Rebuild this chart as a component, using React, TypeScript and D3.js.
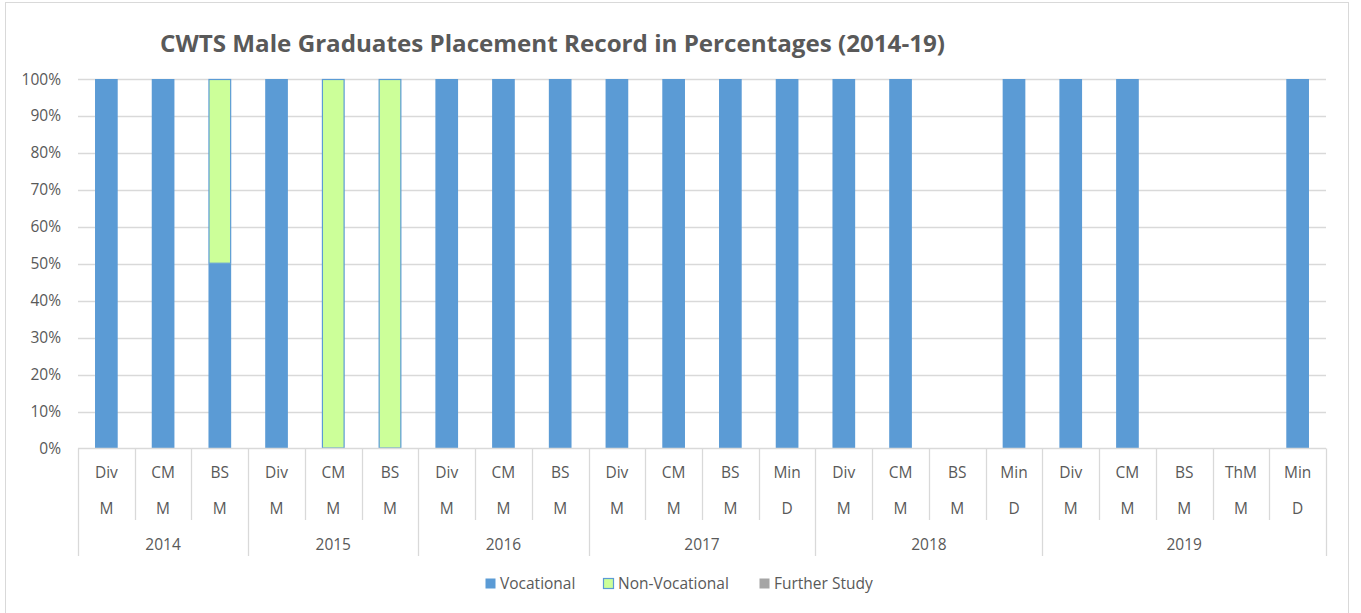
import React, { useEffect, useRef } from 'react';
import * as d3 from 'd3';

// categories (level 1 / level 2) and their year groups
const programs = ['Div', 'CM', 'BS', 'Div', 'CM', 'BS', 'Div', 'CM', 'BS', 'Div', 'CM', 'BS', 'Min', 'Div', 'CM', 'BS', 'Min', 'Div', 'CM', 'BS', 'ThM', 'Min'];
const degrees = ['M', 'M', 'M', 'M', 'M', 'M', 'M', 'M', 'M', 'M', 'M', 'M', 'D', 'M', 'M', 'M', 'D', 'M', 'M', 'M', 'M', 'D'];
const years = ['2014', '2015', '2016', '2017', '2018', '2019'];
const yearCounts = [3, 3, 3, 4, 4, 5];

// series values (percent)
const vocational = [100, 100, 50, 100, 0, 0, 100, 100, 100, 100, 100, 100, 100, 100, 100, 0, 100, 100, 100, 0, 0, 100];
const nonVocational = [0, 0, 50, 0, 100, 100, 0, 0, 0, 0, 0, 0, 0, 0, 0, 0, 0, 0, 0, 0, 0, 0];
const furtherStudy = [0, 0, 0, 0, 0, 0, 0, 0, 0, 0, 0, 0, 0, 0, 0, 0, 0, 0, 0, 0, 0, 0];

const yTicks = [0, 10, 20, 30, 40, 50, 60, 70, 80, 90, 100];

const seriesNames = ['Vocational', 'Non-Vocational', 'Further Study'];
const seriesFill = ['#5B9BD5', '#CCFF99', '#A5A5A5'];
const seriesStroke = ['none', '#5B9BD5', 'none'];

const App = () => {
  const svgRef = useRef<SVGSVGElement>(null);

  useEffect(() => {
    const width = 1361;
    const height = 613;
    const margin = { top: 79, right: 35, bottom: 164.5, left: 78 };
    const font = '"Open Sans", sans-serif';
    const textColor = '#595959';
    const lineColor = '#D9D9D9';

    const svg = d3.select(svgRef.current);
    svg.selectAll('*').remove();
    svg.attr('width', width).attr('height', height)
      .style('display', 'block')
      .style('position', 'absolute')
      .style('left', '0px')
      .style('top', '0px');

    svg.append('rect')
      .attr('x', 5.5).attr('y', 2.5)
      .attr('width', 1343).attr('height', 620)
      .attr('fill', '#fff').attr('stroke', lineColor);

    const idx = programs.map((_, i) => String(i));
    const x = d3.scaleBand()
      .domain(idx)
      .range([margin.left, width - margin.right])
      .paddingInner(0.6)
      .paddingOuter(0.3);
    const step = x.step();
    const x0 = margin.left;
    const x1 = width - margin.right;

    const y = d3.scaleLinear().domain([0, 100]).range([height - margin.bottom, margin.top]);

    // grid
    svg.append('g')
      .selectAll('line')
      .data(yTicks.filter(d => d > 0))
      .join('line')
      .attr('x1', x0).attr('x2', x1)
      .attr('y1', d => Math.round(y(d)) + 0.5).attr('y2', d => Math.round(y(d)) + 0.5)
      .attr('stroke', lineColor).attr('stroke-width', 1.3);

    // y labels
    svg.append('g')
      .selectAll('text')
      .data(yTicks)
      .join('text')
      .attr('x', 61)
      .attr('y', d => y(d) + 5.5)
      .attr('text-anchor', 'end')
      .attr('font-family', font)
      .attr('font-size', 15.5)
      .attr('fill', textColor)
      .text(d => d + '%');

    // stacked bars
    const rows = idx.map((k, i) => ({ k, v0: vocational[i], v1: nonVocational[i], v2: furtherStudy[i] }));
    const stack = d3.stack<any>().keys(['v0', 'v1', 'v2']);
    const layers = stack(rows);

    layers.forEach((layer, si) => {
      const inset = seriesStroke[si] === 'none' ? 0 : 0.5;
      svg.append('g')
        .selectAll('rect')
        .data(layer.filter(d => d[1] - d[0] > 0))
        .join('rect')
        .attr('x', d => x(d.data.k)! + inset)
        .attr('y', d => y(d[1]) + inset)
        .attr('width', x.bandwidth() - 2 * inset)
        .attr('height', d => y(d[0]) - y(d[1]) - 2 * inset)
        .attr('fill', seriesFill[si])
        .attr('stroke', seriesStroke[si])
        .attr('stroke-width', 1.2);
    });

    // category axis
    const axisY = y(0);
    const g = svg.append('g');
    g.append('line')
      .attr('x1', x0).attr('x2', x1)
      .attr('y1', axisY).attr('y2', axisY)
      .attr('stroke', lineColor).attr('stroke-width', 1.5);

    const boundaries: number[] = [];
    let acc = 0;
    yearCounts.forEach(c => { acc += c; boundaries.push(acc); });

    for (let i = 0; i <= programs.length; i++) {
      const isYear = i === 0 || boundaries.includes(i);
      const bx = Math.round(x0 + i * step) + 0.5;
      g.append('line')
        .attr('x1', bx).attr('x2', bx)
        .attr('y1', axisY).attr('y2', isYear ? 556 : 520)
        .attr('stroke', lineColor).attr('stroke-width', 1.3);
    }

    g.selectAll('text.prog')
      .data(programs)
      .join('text')
      .attr('class', 'prog')
      .attr('x', (_, i) => x(String(i))! + x.bandwidth() / 2)
      .attr('y', 478)
      .attr('text-anchor', 'middle')
      .attr('font-family', font).attr('font-size', 15.5).attr('fill', textColor)
      .text(d => d);

    g.selectAll('text.deg')
      .data(degrees)
      .join('text')
      .attr('class', 'deg')
      .attr('x', (_, i) => x(String(i))! + x.bandwidth() / 2)
      .attr('y', 514)
      .attr('text-anchor', 'middle')
      .attr('font-family', font).attr('font-size', 15.5).attr('fill', textColor)
      .text(d => d);

    let start = 0;
    years.forEach((yr, j) => {
      const mid = x0 + (start + yearCounts[j] / 2) * step;
      g.append('text')
        .attr('x', mid).attr('y', 550)
        .attr('text-anchor', 'middle')
        .attr('font-family', font).attr('font-size', 15.5).attr('fill', textColor)
        .text(yr);
      start += yearCounts[j];
    });

    // title
    svg.append('text')
      .attr('x', 160).attr('y', 52)
      .attr('font-family', font).attr('font-size', 24).attr('font-weight', 'bold')
      .attr('fill', textColor)
      .attr('textLength', 785).attr('lengthAdjust', 'spacingAndGlyphs')
      .text('CWTS Male Graduates Placement Record in Percentages (2014-19)');

    // legend
    const legendX = [485, 603, 759];
    const leg = svg.append('g');
    seriesNames.forEach((name, i) => {
      leg.append('rect')
        .attr('x', legendX[i] + 0.5).attr('y', 578.5)
        .attr('width', 10).attr('height', 10)
        .attr('fill', seriesFill[i])
        .attr('stroke', seriesStroke[i]).attr('stroke-width', 1.2);
      leg.append('text')
        .attr('x', legendX[i] + 15).attr('y', 589)
        .attr('font-family', font).attr('font-size', 15.5).attr('fill', textColor)
        .text(name);
    });
  }, []);

  return <svg ref={svgRef}></svg>;
};

export default App;
